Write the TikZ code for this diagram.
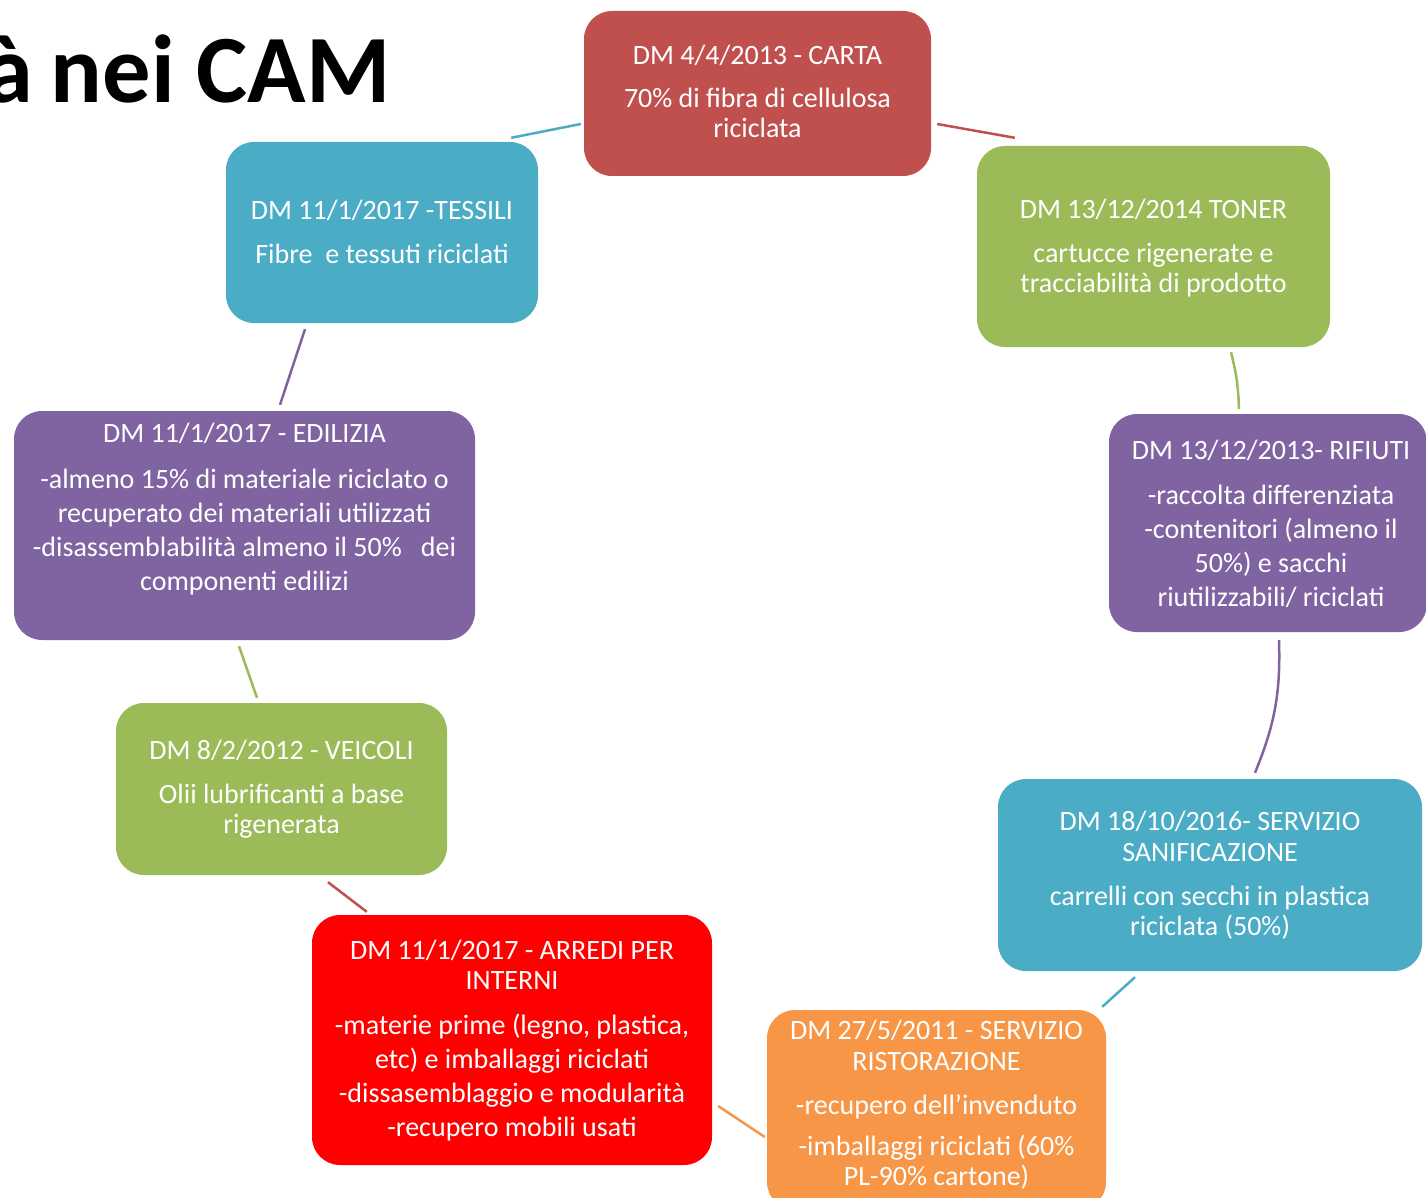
\documentclass[tikz,border=0pt]{standalone}
\usepackage{fontspec}
\setmainfont{Carlito}
\usetikzlibrary{calc}
\definecolor{cred}{HTML}{C0504D}
\definecolor{cgreen}{HTML}{9BBB59}
\definecolor{cblue}{HTML}{4BACC6}
\definecolor{cpurple}{HTML}{8064A2}
\definecolor{corange}{HTML}{F79646}
\definecolor{cbright}{HTML}{FF0000}
\begin{document}
\begin{tikzpicture}[x=1pt,y=-1pt,
  box/.style={draw=none, rounded corners=28pt, inner sep=0pt},
  txt/.style={text=white, align=center, inner sep=0pt, font=\fontsize{28}{30.5}\selectfont},
  txtwide/.style={text=white, align=center, inner sep=0pt, font=\fontsize{28}{34}\selectfont},
  conn/.style={line width=2.5pt}]
\useasboundingbox (0,0) rectangle (1426,1198);
\fill[white] (0,0) rectangle (1426,1198);

% title
\node[font=\fontsize{96.5}{110}\selectfont\bfseries, anchor=base east, inner sep=0pt] (title) at (391,103) {à\hspace{-4pt} nei CAM};

% boxes
\node[box, fill=cred, minimum width=347pt, minimum height=165pt] (carta) at (757.5,93.5) {};
\node[box, fill=cgreen, minimum width=353pt, minimum height=201pt] (toner) at (1153.5,246.5) {};
\node[box, fill=cpurple, minimum width=318pt, minimum height=218pt] (rifiuti) at (1268,523) {};
\node[box, fill=cblue, minimum width=424pt, minimum height=192pt] (sanif) at (1210,875) {};
\node[box, fill=corange, minimum width=339pt, minimum height=200pt] (ristor) at (936.5,1110) {};
\node[box, fill=cbright, minimum width=400pt, minimum height=250pt] (arredi) at (512,1040) {};
\node[box, fill=cgreen, minimum width=331pt, minimum height=172pt] (veicoli) at (281.5,789) {};
\node[box, fill=cpurple, minimum width=461pt, minimum height=229pt] (edilizia) at (244.5,525.5) {};
\node[box, fill=cblue, minimum width=312pt, minimum height=181pt] (tessili) at (382,232.5) {};

% texts
\node[txt] (tcarta) at (757.5,91.5) {DM 4/4/2013 - CARTA\\[12.5pt]70\% di fibra di cellulosa\\riciclata};
\node[txt] (ttoner) at (1153.5,248) {DM 13/12/2014 TONER\\[13.5pt]cartucce rigenerate e\\tracciabilità di prodotto};
\node[txt] (ttessili) at (382,232) {DM 11/1/2017 -TESSILI\\[13.5pt]Fibre\ \ e tessuti riciclati};
\node[txtwide] (tedilizia) at (244.5,509) {DM 11/1/2017 - EDILIZIA\\[12pt]-almeno 15\% di materiale riciclato o\\recuperato dei materiali utilizzati\\-disassemblabilità almeno il 50\%\ \ \ dei\\componenti edilizi};
\node[txtwide] (trifiuti) at (1271,524) {DM 13/12/2013- RIFIUTI\\[11pt]-raccolta differenziata\\-contenitori (almeno il\\50\%) e sacchi\\riutilizzabili/ riciclati};
\node[txt] (tveicoli) at (281.5,789) {DM 8/2/2012 - VEICOLI\\[13.5pt]Olii lubrificanti a base\\rigenerata};
\node[txt] (tsanif) at (1210,875.5) {DM 18/10/2016- SERVIZIO\\SANIFICAZIONE\\[13.5pt]carrelli con secchi in plastica\\riciclata (50\%)};
\node[txt] (tarredi) at (512,1040.5) {DM 11/1/2017 - ARREDI PER\\INTERNI\\[14.5pt]-materie prime (legno, plastica,\\[3.5pt]etc) e imballaggi riciclati\\[3.5pt]-dissasemblaggio e modularità\\[3.5pt]-recupero mobili usati};
\node[txt] (tristor) at (936.5,1105) {DM 27/5/2011 - SERVIZIO\\RISTORAZIONE\\[13.5pt]-recupero dell'invenduto\\[10.5pt]-imballaggi riciclati (60\%\\PL-90\% cartone)};

% connectors
\draw[conn, draw=cred] ($(carta.east)+(6,30.5)$) -- ($(toner.north west)+(38,-8)$);
\draw[conn, draw=cgreen] ($(toner.south)+(77.5,5)$) to[bend left=6] ($(rifiuti.north)+(-29,-5)$);
\draw[conn, draw=cpurple] ($(rifiuti.south)+(11,8)$) to[bend left=12] ($(sanif.north)+(45,-6)$);
\draw[conn, draw=cblue] ($(sanif.south)+(-75,6)$) -- ($(ristor.north east)+(-4,-3)$);
\draw[conn, draw=corange] ($(ristor.west)+(-2,27)$) -- ($(arredi.east)+(6,66)$);
\draw[conn, draw=cred] ($(arredi.north west)+(55,-3)$) -- ($(veicoli.south)+(46.5,7)$);
\draw[conn, draw=cgreen] ($(veicoli.north)+(-24.5,-5)$) -- ($(edilizia.south)+(-5.5,6)$);
\draw[conn, draw=cpurple] ($(edilizia.north)+(35.5,-6)$) -- ($(tessili.south)+(-77,6)$);
\draw[conn, draw=cblue] ($(carta.west)+(-3,30.5)$) -- ($(tessili.north east)+(-27,-4)$);
\end{tikzpicture}
\end{document}
